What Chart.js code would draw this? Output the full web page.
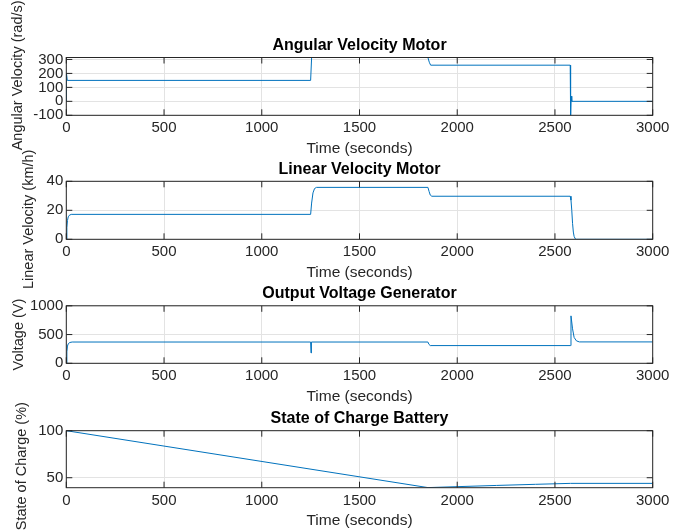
<!DOCTYPE html>
<html>
<head>
<meta charset="utf-8">
<script src="https://cdn.jsdelivr.net/npm/chart.js@4"></script>
<style>
  body { margin: 0; background: #fff; }
  #wrap { position: relative; width: 680px; height: 530px; background: #fff; }
  #wrap canvas { position: absolute; left: 0; top: 0; }
</style>
</head>
<body>
<div id="wrap">
  <canvas id="c1" width="680" height="530"></canvas>
  <canvas id="c2" width="680" height="530"></canvas>
  <canvas id="c3" width="680" height="530"></canvas>
  <canvas id="c4" width="680" height="530"></canvas>
</div>
<script>
/* --- data --- */
const xTicks = [0, 500, 1000, 1500, 2000, 2500, 3000];

// angular velocity (rad/s)
const angTime = [0, 1, 5, 1250, 1255, 1850, 1857, 1864, 2578, 2580, 2583, 2586, 3000];
const angVel  = [0, 200, 150, 150, 314, 314, 280, 259, 259, -100, 37, 0, 0];
const angTicks = [-100, 0, 100, 200, 300];

// linear velocity (km/h)
const linTime = [0, 3, 6, 10, 15, 25, 1250, 1255, 1262, 1270, 1280, 1850, 1856, 1862, 1870,
                 2578, 2582, 2586, 2590, 2594, 2598, 2604, 2610, 3000];
const linVel  = [0, 8, 13, 15.5, 16.5, 17.2, 17.2, 25, 32, 35, 35.8, 35.8, 33, 30.5, 29.7,
                 29.7, 27, 20, 11, 5, 2, 0.3, 0, 0];
const linTicks = [0, 20, 40];

// generator output voltage (V)
const voltTime = [0, 3, 6, 10, 18, 30, 1250, 1252, 1254, 1850, 1855, 1862, 2580, 2582, 2590, 2598, 2610, 2625, 3000];
const voltVal  = [0, 200, 300, 340, 362, 370, 370, 180, 370, 370, 330, 308, 308, 825, 600, 450, 390, 372, 372];
const voltTicks = [0, 500, 1000];

// battery state of charge (%)
const socTime = [0, 1850, 2000, 2200, 2400, 2580, 3000];
const socVal  = [100, 39.5, 40.5, 41.8, 43, 44, 44];
const socTicks = [50, 100];

/* --- look --- */
const FONT = '"Liberation Sans", Arial, Helvetica, sans-serif';
const AXIS_COL = '#262626';
const GRID_COL = '#e3e3e3';
const LINE_COL = '#0072BD';
const TICK_PX = 15, LABEL_PX = 15.5, YLABEL_PX = 14.5, TITLE_PX = 16;

/* box + inward ticks + y label, MATLAB style */
const matlabBox = {
    id: 'matlabBox',
    afterDraw(chart, args, opts) {
        const { ctx, chartArea: a, scales: { x, y } } = chart;
        const tl = 6;
        ctx.save();
        ctx.strokeStyle = AXIS_COL;
        ctx.lineWidth = 1;
        ctx.beginPath();
        x.ticks.forEach(t => {
            const px = x.getPixelForValue(t.value);
            ctx.moveTo(px, a.bottom); ctx.lineTo(px, a.bottom - tl);
            ctx.moveTo(px, a.top); ctx.lineTo(px, a.top + tl);
        });
        y.ticks.forEach(t => {
            const py = y.getPixelForValue(t.value);
            ctx.moveTo(a.left, py); ctx.lineTo(a.left + tl, py);
            ctx.moveTo(a.right, py); ctx.lineTo(a.right - tl, py);
        });
        ctx.stroke();
        ctx.strokeRect(a.left, a.top, a.right - a.left, a.bottom - a.top);

        ctx.translate(opts.labelX, (a.top + a.bottom) / 2 + (opts.labelDy || 0));
        ctx.rotate(-Math.PI / 2);
        ctx.font = YLABEL_PX + 'px ' + FONT;
        ctx.fillStyle = AXIS_COL;
        ctx.textAlign = 'center';
        ctx.textBaseline = 'middle';
        ctx.fillText(opts.label, 0, 0);
        ctx.restore();
    }
};

function makePanel(id, p) {
    const titleLH = TITLE_PX * 1.2, titleGap = 12 - titleLH / 2;
    const tickLH = TICK_PX * 1.2, labelLH = LABEL_PX * 1.2;
    const xScaleH = 33.5 + labelLH / 2;
    return new Chart(document.getElementById(id), {
        type: 'line',
        data: {
            datasets: [{
                data: p.xs.map((t, i) => ({ x: t, y: p.ys[i] })),
                borderColor: LINE_COL,
                borderWidth: 1,
                pointRadius: 0,
                tension: 0
            }]
        },
        options: {
            animation: false,
            responsive: false,
            events: [],
            layout: {
                autoPadding: false,
                padding: { left: 0, right: 27.3, top: p.top - titleLH - titleGap, bottom: 530 - p.bottom - xScaleH }
            },
            plugins: {
                legend: { display: false },
                tooltip: { enabled: false },
                title: {
                    display: true, text: p.title, color: '#000', fullSize: false,
                    font: { family: FONT, size: TITLE_PX, weight: 'bold' },
                    padding: { top: 0, bottom: titleGap }
                },
                matlabBox: { label: p.ylabel, labelX: p.labelX, labelDy: p.labelDy }
            },
            scales: {
                x: {
                    type: 'linear', min: 0, max: 3000,
                    afterBuildTicks: s => { s.ticks = xTicks.map(v => ({ value: v })); },
                    afterFit: s => { s.height = xScaleH; },
                    grid: { color: GRID_COL, drawTicks: false },
                    border: { display: false },
                    ticks: { padding: 13 - tickLH / 2, color: AXIS_COL, font: { family: FONT, size: TICK_PX },
                             maxRotation: 0, autoSkip: false, callback: v => String(v) },
                    title: { display: true, text: 'Time (seconds)', color: AXIS_COL, font: { family: FONT, size: LABEL_PX },
                             padding: { top: 0, bottom: 0 } }
                },
                y: {
                    type: 'linear', min: p.ymin, max: p.ymax,
                    afterBuildTicks: s => { s.ticks = p.ticks.map(v => ({ value: v })); },
                    afterFit: s => { s.width = 66.3; },
                    grid: { color: GRID_COL, drawTicks: false },
                    border: { display: false },
                    ticks: { padding: 3, color: AXIS_COL, font: { family: FONT, size: TICK_PX }, autoSkip: false,
                             callback: v => String(v) }
                }
            }
        },
        plugins: [matlabBox]
    });
}

makePanel('c1', { xs: angTime, ys: angVel, ticks: angTicks, ymin: -100, ymax: 314,
    title: 'Angular Velocity Motor', ylabel: 'Angular Velocity (rad/s)', top: 57.5, bottom: 115.3, labelX: 18, labelDy: -11 });
makePanel('c2', { xs: linTime, ys: linVel, ticks: linTicks, ymin: 0, ymax: 40,
    title: 'Linear Velocity Motor', ylabel: 'Linear Velocity (km/h)', top: 181.3, bottom: 239.3, labelX: 29, labelDy: 9 });
makePanel('c3', { xs: voltTime, ys: voltVal, ticks: voltTicks, ymin: 0, ymax: 1000,
    title: 'Output Voltage Generator', ylabel: 'Voltage (V)', top: 305.8, bottom: 363.3, labelX: 19, labelDy: 0 });
makePanel('c4', { xs: socTime, ys: socVal, ticks: socTicks, ymin: 39.4, ymax: 100,
    title: 'State of Charge Battery', ylabel: 'State of Charge (%)', top: 430.7, bottom: 487.7, labelX: 22, labelDy: 7 });
</script>
</body>
</html>
